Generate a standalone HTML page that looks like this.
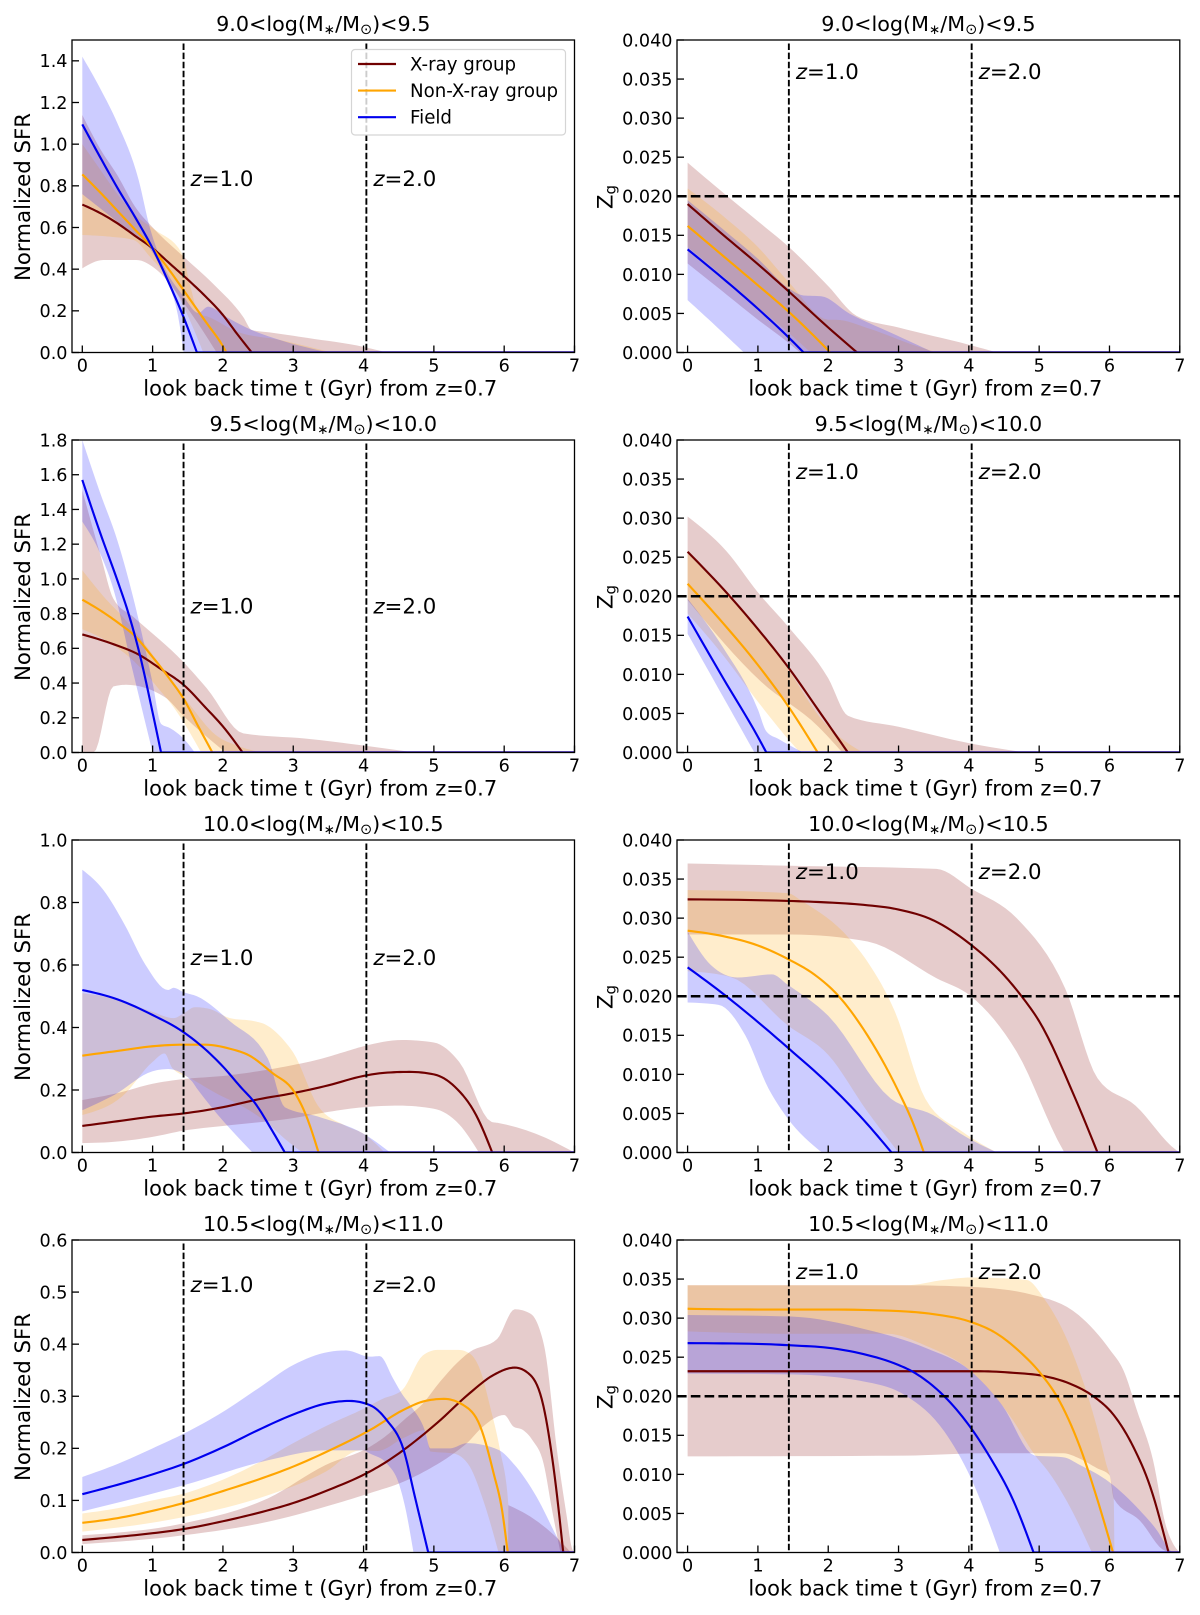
<!DOCTYPE html>
<html lang="en">
<head>
<meta charset="utf-8">
<title>Normalized SFR and gas metallicity histories</title>
<style>
html,body{margin:0;padding:0;background:#fff;}
#chart{display:block;width:1200px;height:1615px;font-family:"DejaVu Sans","Liberation Sans",sans-serif;filter:blur(0.35px);}
text{fill:#000;}
</style>
</head>
<body>
<svg id="chart" xmlns="http://www.w3.org/2000/svg" width="1200" height="1615" viewBox="0 0 1200 1615"></svg>
<script>
/* ---------- shared axis values ---------- */
const xTickValues = [0,1,2,3,4,5,6,7];
const redshiftTimes = [1.44,4.04];
const redshiftLabels = ['=1.0','=2.0'];
const sfrTicksA = ['0.0','0.2','0.4','0.6','0.8','1.0','1.2','1.4'];
const sfrTicksC = ['0.0','0.2','0.4','0.6','0.8','1.0','1.2','1.4','1.6','1.8'];
const sfrTicksE = ['0.0','0.2','0.4','0.6','0.8','1.0'];
const sfrTicksG = ['0.0','0.1','0.2','0.3','0.4','0.5','0.6'];
const zgTicks = ['0.000','0.005','0.010','0.015','0.020','0.025','0.030','0.035','0.040'];
const solarZ = 0.02;

/* ---------- Panel A: SFR, 9.0-9.5 ---------- */
const aXrayLine = [[0,.71],[.25,.67],[.5,.62],[.75,.56],[1,.5],[1.25,.425],[1.5,.35],[1.75,.27],[2,.18],[2.2,.09],[2.41,0],[7,0]];
const aXrayHigh = [[0,1.14],[.25,.98],[.5,.85],[.75,.7],[1.03,.59],[1.44,.46],[1.86,.33],[2.29,.17],[2.41,.108],[2.7,.095],[3.2,.07],[4,.027],[4.33,0],[7,0]];
const aXrayLow = [[0,.404],[.3,.444],[.77,.444],[1.06,.396],[1.48,.22],[1.91,0],[7,0]];
const aOrangeLine = [[0,.855],[.25,.77],[.5,.68],[.75,.59],[1,.5],[1.25,.39],[1.5,.27],[1.75,.15],[2,.03],[2.05,0],[7,0]];
const aOrangeHigh = [[0,1],[.25,.88],[.5,.76],[.75,.66],[1.03,.59],[1.41,.48],[1.55,.3],[1.65,.188],[1.8,.17],[2.2,.1],[2.81,.06],[3.55,0],[7,0]];
const aOrangeLow = [[0,.564],[.39,.556],[.73,.54],[.96,.46],[1.2,.364],[1.44,.22],[1.72,0],[7,0]];
const aBlueLine = [[0,1.095],[.25,.94],[.5,.79],[.75,.65],[1,.5],[1.25,.32],[1.44,.17],[1.63,0],[7,0]];
const aBlueHigh = [[0,1.42],[.25,1.27],[.5,1.1],[.8,.83],[.96,.6],[1.1,.46],[1.44,.27],[1.65,.19],[1.79,.22],[2.05,.17],[2.41,.108],[2.81,.06],[3.5,0],[7,0]];
const aBlueLow = [[0,.76],[.3,.68],[.6,.6],[.96,.5],[1.15,.38],[1.39,.12],[1.44,0],[7,0]];

/* ---------- Panel B: Zg, 9.0-9.5 ---------- */
const bXrayLine = [[0,.019],[.5,.0151],[1,.0113],[1.44,.0078],[2,.0032],[2.41,0],[7,0]];
const bXrayHigh = [[0,.0243],[.5,.0205],[1,.0168],[1.44,.0135],[2,.0085],[2.4,.0047],[3,.0032],[4,.001],[4.4,0],[7,0]];
const bXrayLow = [[0,.0114],[.5,.0078],[1,.0042],[1.44,.0012],[1.6,0],[7,0]];
const bOrangeLine = [[0,.0162],[.5,.0124],[1,.0086],[1.44,.0052],[2.03,0],[7,0]];
const bOrangeHigh = [[0,.021],[.5,.0175],[1,.0135],[1.44,.009],[2,.0042],[2.1,.0042],[2.6,.003],[3.2,.001],[3.55,0],[7,0]];
const bOrangeLow = [[0,.0135],[.5,.0098],[1,.0058],[1.44,.0025],[1.75,0],[7,0]];
const bBlueLine = [[0,.0132],[.5,.0095],[1,.0056],[1.44,.0019],[1.65,0],[7,0]];
const bBlueHigh = [[0,.0195],[.5,.0158],[1,.012],[1.44,.0082],[1.65,.0073],[1.9,.0072],[2.3,.005],[2.9,.0025],[3.5,0],[7,0]];
const bBlueLow = [[0,.0067],[.4,.0034],[.8,0],[7,0]];

/* ---------- Panel C: SFR, 9.5-10.0 ---------- */
const cXrayLine = [[0,.68],[.4,.63],[.82,.56],[1.12,.48],[1.44,.39],[1.75,.26],[2,.15],[2.28,0],[7,0]];
const cXrayHigh = [[0,1.51],[.27,1.12],[.44,.887],[.73,.78],[1.44,.52],[1.77,.37],[2.29,.11],[3.18,.08],[4,.04],[4.73,0],[7,0]];
const cXrayLow = [[0,0],[.16,0],[.44,.38],[.62,.39],[1.17,.32],[1.44,.21],[2.04,0],[7,0]];
const cOrangeLine = [[0,.88],[.25,.82],[.5,.75],[.75,.67],[1,.55],[1.25,.42],[1.44,.31],[1.65,.15],[1.85,0],[7,0]];
const cOrangeHigh = [[0,1.05],[.3,.9],[.6,.77],[.9,.62],[1.2,.45],[1.5,.29],[1.9,.1],[2.2,.04],[2.55,0],[7,0]];
const cOrangeLow = [[0,.71],[.4,.63],[.8,.5],[1.1,.36],[1.3,.26],[1.69,0],[7,0]];
const cBlueLine = [[0,1.57],[.25,1.27],[.5,.99],[.65,.81],[.82,.56],[1,.23],[1.12,0],[7,0]];
const cBlueHigh = [[0,1.8],[.25,1.5],[.5,1.22],[.75,.85],[1,.4],[1.12,.165],[1.25,.14],[1.44,.08],[1.6,0],[7,0]];
const cBlueLow = [[0,1.33],[.25,1.15],[.45,.93],[.7,.5],[1,0],[7,0]];

/* ---------- Panel D: Zg, 9.5-10.0 ---------- */
const dXrayLine = [[0,.0257],[.6,.02],[1,.0158],[1.44,.0108],[1.9,.0049],[2.28,0],[7,0]];
const dXrayHigh = [[0,.0302],[.55,.0258],[1,.0205],[1.44,.016],[2,.0095],[2.28,.0047],[3,.0033],[4,.0012],[4.8,0],[7,0]];
const dXrayLow = [[0,.0195],[1.04,.0091],[1.86,.0033],[2.2,0],[7,0]];
const dOrangeLine = [[0,.0216],[.5,.0166],[1,.0112],[1.44,.0058],[1.85,0],[7,0]];
const dOrangeHigh = [[0,.0255],[.6,.0198],[1,.0157],[1.44,.0105],[1.9,.0043],[2.4,.0005],[2.5,0],[7,0]];
const dOrangeLow = [[0,.0178],[.5,.0125],[1,.0065],[1.45,.0015],[1.6,0],[7,0]];
const dBlueLine = [[0,.0174],[.5,.0096],[1,.002],[1.12,0],[7,0]];
const dBlueHigh = [[0,.0197],[.5,.0135],[1,.0055],[1.12,.0027],[1.3,.0017],[1.64,0],[7,0]];
const dBlueLow = [[0,.0152],[.5,.0072],[.95,0],[7,0]];

/* ---------- Panel E: SFR, 10.0-10.5 ---------- */
const eXrayLine = [[0,.085],[.5,.1],[1,.115],[1.44,.125],[2,.145],[2.5,.17],[3,.19],[3.5,.215],[4,.245],[4.3,.255],[4.65,.258],[5,.25],[5.3,.21],[5.6,.12],[5.83,0],[7,0]];
const eXrayHigh = [[0,.168],[.5,.19],[1,.22],[1.44,.235],[2,.245],[2.5,.26],[3,.28],[3.4,.3],[3.7,.32],[4,.34],[4.55,.36],[5,.352],[5.36,.29],[5.82,.098],[5.9,.095],[6.45,.06],[7,0]];
const eXrayLow = [[0,.03],[.5,.035],[1,.05],[1.44,.07],[2,.085],[3,.11],[3.5,.13],[4,.145],[4.5,.15],[5,.14],[5.36,.09],[5.64,0],[7,0]];
const eOrangeLine = [[0,.31],[.5,.325],[1,.34],[1.44,.345],[1.75,.345],[2.1,.332],[2.37,.311],[2.7,.255],[3.02,.192],[3.18,.12],[3.36,0],[7,0]];
const eOrangeHigh = [[0,.51],[.5,.49],[1,.45],[1.3,.43],[1.44,.445],[1.6,.465],[1.8,.46],[2.1,.43],[2.45,.42],[2.6,.41],[2.9,.35],[3,.32],[3.35,.15],[3.73,.087],[4,.06],[4.3,0],[7,0]];
const eOrangeLow = [[0,.12],[.57,.18],[1,.29],[1.17,.317],[1.28,.27],[1.55,.236],[1.9,.19],[2.3,.145],[2.6,.1],[2.9,.04],[3.13,0],[7,0]];
const eBlueLine = [[0,.52],[.5,.49],[1,.44],[1.44,.385],[1.75,.33],[2,.275],[2.25,.21],[2.45,.16],[2.7,.07],[2.88,0],[7,0]];
const eBlueHigh = [[0,.905],[.3,.84],[.6,.73],[.9,.6],[1.22,.52],[1.3,.527],[1.44,.513],[1.63,.5],[2.1,.42],[2.64,.3],[2.88,.145],[3.35,.115],[4,.06],[4.38,0],[7,0]];
const eBlueLow = [[0,.135],[.46,.185],[1,.26],[1.22,.267],[1.55,.23],[1.63,.205],[2.42,0],[7,0]];

/* ---------- Panel F: Zg, 10.0-10.5 ---------- */
const fXrayLine = [[0,.0324],[1.44,.0322],[2,.032],[2.5,.0317],[3,.0311],[3.5,.0297],[4,.0268],[4.5,.0227],[4.75,.02],[5,.0168],[5.5,.0072],[5.83,0],[7,0]];
const fXrayHigh = [[0,.037],[1.47,.0367],[3.54,.0363],[4.03,.0338],[4.68,.03],[5.37,.021],[5.83,.0095],[6.37,.006],[6.95,.0003],[7,0]];
const fXrayLow = [[0,.0279],[1.47,.0279],[2.56,.027],[3.54,.0223],[4.03,.02],[4.68,.0129],[5.34,.0003],[5.36,0],[7,0]];
const fOrangeLine = [[0,.0284],[.5,.0277],[1,.0265],[1.44,.0247],[1.8,.0228],[2.15,.02],[2.5,.0158],[3,.0078],[3.2,.0039],[3.36,0],[7,0]];
const fOrangeHigh = [[0,.0336],[1.42,.0332],[1.64,.0321],[2.3,.0274],[2.56,.0244],[2.95,.018],[3.38,.0069],[3.92,.0026],[4.4,0],[7,0]];
const fOrangeLow = [[0,.0232],[.6,.0225],[1.42,.0163],[2,.0125],[2.56,.0052],[3,0],[7,0]];
const fBlueLine = [[0,.0237],[.55,.02],[1,.0167],[1.44,.0133],[2,.0088],[2.5,.0042],[2.9,0],[7,0]];
const fBlueHigh = [[0,.0283],[.33,.024],[.71,.0224],[1.2,.0228],[1.42,.0215],[2,.0175],[2.89,.0069],[3.49,.0048],[3.92,.0022],[4.4,0],[7,0]];
const fBlueLow = [[0,.0192],[.44,.0189],[.82,.015],[1.15,.0082],[1.42,.0044],[1.91,0],[7,0]];

/* ---------- Panel G: SFR, 10.5-11.0 ---------- */
const gXrayLine = [[0,.024],[.5,.03],[1,.037],[1.44,.045],[2,.06],[2.5,.076],[3,.095],[3.5,.12],[4.04,.152],[4.3,.172],[4.57,.197],[5.04,.248],[5.51,.306],[5.85,.341],[6.15,.355],[6.37,.341],[6.56,.28],[6.7,.165],[6.84,0],[7,0]];
const gXrayHigh = [[0,.033],[1.44,.056],[2.64,.104],[3.46,.168],[4.09,.203],[4.33,.225],[4.57,.254],[4.87,.29],[5.04,.32],[5.51,.385],[5.9,.41],[6.15,.467],[6.37,.459],[6.5,.43],[6.58,.389],[6.75,.197],[6.89,.069],[6.96,.01],[7,0]];
const gXrayLow = [[0,.016],[1.44,.033],[2.64,.059],[3.46,.088],[3.95,.108],[4.09,.114],[4.57,.136],[4.9,.158],[5.28,.19],[5.47,.21],[5.7,.242],[6,.264],[6.13,.242],[6.27,.235],[6.4,.216],[6.56,.171],[6.68,.082],[6.8,0],[7,0]];
const gXrayTail = [[6.06,.091],[6.37,.069],[6.68,.037],[6.95,0]];
const gXrayTailBase = [[6.06,0],[6.95,0]];
const gOrangeLine = [[0,.057],[.5,.066],[1,.08],[1.44,.095],[2,.118],[2.5,.14],[3,.165],[3.5,.195],[4.09,.235],[4.57,.274],[4.85,.29],[5.14,.295],[5.42,.283],[5.66,.242],[5.85,.152],[5.97,.081],[6.05,0],[7,0]];
const gOrangeHigh = [[0,.075],[.5,.085],[1,.1],[1.44,.113],[2,.14],[2.5,.172],[3,.21],[3.5,.245],[4,.276],[4.27,.295],[4.55,.312],[4.84,.378],[5.05,.389],[5.35,.389],[5.51,.382],[5.66,.35],[5.8,.28],[5.94,.197],[6.06,.091],[6.07,0],[7,0]];
const gOrangeLow = [[0,.04],[1.44,.068],[2.64,.11],[3.46,.155],[3.95,.196],[4.2,.195],[4.57,.22],[4.87,.235],[4.95,.194],[5.28,.19],[5.51,.165],[5.7,.101],[5.92,0],[7,0]];
const gBlueLine = [[0,.112],[.5,.13],[1,.15],[1.44,.17],[2,.202],[2.5,.235],[3,.265],[3.5,.287],[3.8,.291],[4.09,.283],[4.33,.254],[4.57,.197],[4.73,.107],[4.92,0],[7,0]];
const gBlueHigh = [[0,.145],[.5,.17],[1,.2],[1.44,.228],[2,.27],[2.5,.315],[3,.36],[3.5,.385],[3.75,.388],[4.09,.376],[4.23,.377],[4.42,.334],[4.54,.306],[4.68,.28],[4.87,.235],[4.95,.2],[5.23,.2],[5.47,.21],[5.92,.197],[6.13,.171],[6.46,.107],[6.75,.03],[6.87,0],[7,0]];
const gBlueLow = [[0,.079],[1.44,.129],[2.64,.177],[3.46,.196],[4,.196],[4.09,.19],[4.33,.171],[4.5,.133],[4.59,.088],[4.71,0],[7,0]];

/* ---------- Panel H: Zg, 10.5-11.0 ---------- */
const hXrayLine = [[0,.0232],[1,.0232],[2,.0232],[3,.0232],[4.16,.0232],[4.63,.023],[5.06,.0226],[5.44,.0216],[5.77,.02],[6.06,.0176],[6.34,.0135],[6.58,.0084],[6.84,0],[7,0]];
const hXrayHigh = [[0,.0342],[3.1,.0342],[4.03,.034],[4.9,.033],[5.56,.0304],[6.01,.0259],[6.2,.0233],[6.39,.0182],[6.62,.0118],[6.8,.0035],[6.9,.0012],[7,0]];
const hXrayLow = [[0,.0123],[3.1,.0124],[4.2,.0127],[4.92,.0127],[5.34,.0127],[5.58,.012],[5.82,.0108],[6,.0099],[6.06,.0069],[6.43,.0041],[6.8,.0002],[7,0]];
const hOrangeLine = [[0,.0312],[1,.0311],[2,.0311],[3,.0309],[3.5,.0305],[4,.0296],[4.4,.028],[4.7,.0259],[5.04,.0227],[5.25,.02],[5.58,.0135],[5.82,.007],[6.05,0],[7,0]];
const hOrangeHigh = [[0,.0342],[3.1,.0342],[3.65,.0349],[4.03,.0352],[4.82,.0349],[5.07,.0325],[5.46,.0259],[5.94,.0118],[6.06,.0069],[6.07,0],[7,0]];
const hOrangeLow = [[0,.0283],[1.47,.028],[2.84,.028],[3.38,.0265],[4.03,.0232],[4.63,.0169],[4.92,.0127],[5.15,.0101],[5.44,.0058],[5.75,0],[7,0]];
const hBlueLine = [[0,.0268],[1,.0267],[1.5,.0265],[2,.0262],[2.5,.0254],[3,.024],[3.19,.0232],[3.65,.02],[4,.0163],[4.3,.0122],[4.63,.0067],[4.92,0],[7,0]];
const hBlueHigh = [[0,.0304],[1.47,.0302],[2.56,.0285],[3.38,.0262],[4.03,.0232],[4.47,.0189],[4.94,.0124],[5.34,.0122],[5.58,.0112],[6,.009],[6.43,.0054],[6.67,.0029],[6.86,.0003],[6.9,0],[7,0]];
const hBlueLow = [[0,.0229],[1.47,.0228],[2.56,.0218],[3.1,.0201],[3.65,.0155],[4.03,.0095],[4.44,0],[7,0]];

/* ---------- panel definitions ---------- */
const panels = [
 {id:'a',kind:'sfr',col:0,row:0,yMax:1.5,step:.2,ticks:sfrTicksA,lo:'9.0',hi:'9.5',zLabelAt:.8,xray:[aXrayLine,aXrayHigh,aXrayLow],orange:[aOrangeLine,aOrangeHigh,aOrangeLow],blue:[aBlueLine,aBlueHigh,aBlueLow]},
 {id:'b',kind:'zg',col:1,row:0,yMax:.04,step:.005,ticks:zgTicks,lo:'9.0',hi:'9.5',zLabelAt:.035,xray:[bXrayLine,bXrayHigh,bXrayLow],orange:[bOrangeLine,bOrangeHigh,bOrangeLow],blue:[bBlueLine,bBlueHigh,bBlueLow]},
 {id:'c',kind:'sfr',col:0,row:1,yMax:1.8,step:.2,ticks:sfrTicksC,lo:'9.5',hi:'10.0',zLabelAt:.8,xray:[cXrayLine,cXrayHigh,cXrayLow],orange:[cOrangeLine,cOrangeHigh,cOrangeLow],blue:[cBlueLine,cBlueHigh,cBlueLow]},
 {id:'d',kind:'zg',col:1,row:1,yMax:.04,step:.005,ticks:zgTicks,lo:'9.5',hi:'10.0',zLabelAt:.035,xray:[dXrayLine,dXrayHigh,dXrayLow],orange:[dOrangeLine,dOrangeHigh,dOrangeLow],blue:[dBlueLine,dBlueHigh,dBlueLow]},
 {id:'e',kind:'sfr',col:0,row:2,yMax:1,step:.2,ticks:sfrTicksE,lo:'10.0',hi:'10.5',zLabelAt:.6,xray:[eXrayLine,eXrayHigh,eXrayLow],orange:[eOrangeLine,eOrangeHigh,eOrangeLow],blue:[eBlueLine,eBlueHigh,eBlueLow]},
 {id:'f',kind:'zg',col:1,row:2,yMax:.04,step:.005,ticks:zgTicks,lo:'10.0',hi:'10.5',zLabelAt:.035,xray:[fXrayLine,fXrayHigh,fXrayLow],orange:[fOrangeLine,fOrangeHigh,fOrangeLow],blue:[fBlueLine,fBlueHigh,fBlueLow]},
 {id:'g',kind:'sfr',col:0,row:3,yMax:.6,step:.1,ticks:sfrTicksG,lo:'10.5',hi:'11.0',zLabelAt:.5,xray:[gXrayLine,gXrayHigh,gXrayLow],orange:[gOrangeLine,gOrangeHigh,gOrangeLow],blue:[gBlueLine,gBlueHigh,gBlueLow],tail:[gXrayTail,gXrayTailBase]},
 {id:'h',kind:'zg',col:1,row:3,yMax:.04,step:.005,ticks:zgTicks,lo:'10.5',hi:'11.0',zLabelAt:.035,xray:[hXrayLine,hXrayHigh,hXrayLow],orange:[hOrangeLine,hOrangeHigh,hOrangeLow],blue:[hBlueLine,hBlueHigh,hBlueLow]}
];

const NS = 'http://www.w3.org/2000/svg';
const svg = document.getElementById('chart');
const colours = {xray:'#700000',orange:'#ffa500',blue:'#0000ee'};
const fills = {xray:'rgba(128,0,0,.2)',orange:'rgba(255,165,0,.2)',blue:'rgba(0,0,255,.2)'};
const seriesTitle = {xray:'xray',orange:'non-xray',blue:'field'};

function make(tag, attrs, parent){
  const el = document.createElementNS(NS, tag);
  for (const k in attrs) el.setAttribute(k, attrs[k]);
  parent.appendChild(el);
  return el;
}
/* Monotone cubic through sorted pixel points; the curve stops at the first point
   where the series reaches zero for good, so the drop-off keeps its sharp corner. */
function denseCurve(pts, baseY){
  let end = pts.length - 1;
  while (end > 0 && pts[end][1] === baseY && pts[end-1][1] === baseY) end--;
  const cur = pts.slice(0, end + 1);
  const out = [];
  const n = cur.length;
  if (n < 2) return pts.slice();
  const h = [], s = [], m = [];
  for (let i = 0; i < n - 1; i++) {
    h[i] = cur[i+1][0] - cur[i][0];
    s[i] = (cur[i+1][1] - cur[i][1]) / h[i];
  }
  for (let i = 1; i < n - 1; i++) {
    if (s[i-1] * s[i] <= 0) { m[i] = 0; continue; }
    const p = (s[i-1] * h[i] + s[i] * h[i-1]) / (h[i-1] + h[i]);
    m[i] = (Math.sign(s[i-1]) + Math.sign(s[i])) * Math.min(Math.abs(s[i-1]), Math.abs(s[i]), 0.5 * Math.abs(p));
  }
  m[0] = n > 2 ? (3 * s[0] - m[1]) / 2 : s[0];
  m[n-1] = n > 2 ? (3 * s[n-2] - m[n-2]) / 2 : s[0];
  for (let i = 0; i < n - 1; i++) {
    for (let k = 0; k < 8; k++) {
      const u = k / 8, u2 = u * u, u3 = u2 * u;
      out.push([
        cur[i][0] + u * h[i],
        (2*u3 - 3*u2 + 1) * cur[i][1] + (u3 - 2*u2 + u) * h[i] * m[i] + (3*u2 - 2*u3) * cur[i+1][1] + (u3 - u2) * h[i] * m[i+1]
      ]);
    }
  }
  out.push(cur[n-1]);
  for (let i = end + 1; i < pts.length; i++) out.push(pts[i]);
  return out;
}
function pointString(list){
  return list.map(function(q){ return q[0].toFixed(2) + ',' + q[1].toFixed(2); }).join(' ');
}

panels.forEach(function(p){
  const left = p.col === 0 ? 72 : 677;
  const right = p.col === 0 ? 574.5 : 1179.8;
  const zeroX = p.col === 0 ? 82.3 : 687.6;
  const top = 40 + p.row * 400;
  const bottom = top + 312.5;
  const xScale = function(t){ return zeroX + t * (right - zeroX) / 7; };
  const yScale = function(v){ return bottom - v / p.yMax * (bottom - top); };
  const mapPts = function(arr){ return arr.map(function(d){ return [xScale(d[0]), yScale(d[1])]; }); };

  const g = make('g', {}, svg);
  
  

  const clip = make('clipPath', {id:'clip-' + p.id}, g);
  make('rect', {x:left, y:top, width:right-left, height:bottom-top}, clip);
  const plot = make('g', {'clip-path':'url(#clip-' + p.id + ')'}, g);

  ['xray','orange','blue'].forEach(function(s){
    const up = denseCurve(mapPts(p[s][1]), bottom), lo = denseCurve(mapPts(p[s][2]), bottom).reverse();
    const band = make('polygon', {points: pointString(up.concat(lo)), fill: fills[s]}, plot);
    
    
    if (s === 'xray' && p.tail) {
      const tu = denseCurve(mapPts(p.tail[0]), bottom), tl = mapPts(p.tail[1]).reverse();
      const tail = make('polygon', {points: pointString(tu.concat(tl)), fill: fills[s]}, plot);
      
      
    }
  });
  ['xray','orange','blue'].forEach(function(s){
    const line = make('polyline', {points: pointString(denseCurve(mapPts(p[s][0]), bottom)), fill:'none', stroke:colours[s], 'stroke-width':2.15, 'stroke-linejoin':'round'}, plot);
    
    
  });

  redshiftTimes.forEach(function(t, i){
    const v = make('line', {x1:xScale(t), x2:xScale(t), y1:top+3.5, y2:bottom, stroke:'#000', 'stroke-width':1.9, 'stroke-dasharray':'6.5 2.6'}, g);
    
    
    const lab = make('text', {x:xScale(t)+7, y:yScale(p.zLabelAt), 'font-size':21.3}, g);
    
    
    const zi = make('tspan', {'font-style':'italic'}, lab);
    zi.textContent = 'z';
    const rest = make('tspan', {}, lab);
    rest.textContent = redshiftLabels[i];
  });
  if (p.kind === 'zg') {
    const h = make('line', {x1:left, x2:right, y1:yScale(solarZ), y2:yScale(solarZ), stroke:'#000', 'stroke-width':2.6, 'stroke-dasharray':'9.6 4.2'}, g);
    
    
  }

  xTickValues.forEach(function(t){
    const tk = make('line', {x1:xScale(t), x2:xScale(t), y1:bottom, y2:bottom-7, stroke:'#000', 'stroke-width':1.3}, g);
    
    
    const tl = make('text', {x:xScale(t), y:bottom+19, 'font-size':17.6, 'text-anchor':'middle'}, g);
    
    
    tl.textContent = String(t);
  });
  p.ticks.forEach(function(label, i){
    const v = i * p.step;
    const tk = make('line', {x1:left, x2:left+7, y1:yScale(v), y2:yScale(v), stroke:'#000', 'stroke-width':1.3}, g);
    
    
    const tl = make('text', {x:left-4.5, y:yScale(v)+6.4, 'font-size':17.6, 'text-anchor':'end'}, g);
    
    
    tl.textContent = label;
  });

  const frame = make('rect', {x:left, y:top, width:right-left, height:bottom-top, fill:'none', stroke:'#000', 'stroke-width':1.3}, g);
  
  

  const title = make('text', {x:(left+right)/2, y:top-9, 'font-size':20.7, 'text-anchor':'middle'}, g);
  
  
  const t1 = make('tspan', {}, title);
  t1.textContent = p.lo + '<log(M';
  const t2 = make('tspan', {'font-size':13.5, dy:3}, title);
  t2.textContent = '\u2217';
  const t3 = make('tspan', {dy:-3}, title);
  t3.textContent = '/M';
  const t4 = make('tspan', {'font-size':14.5, dy:3}, title);
  t4.textContent = '\u2299';
  const t5 = make('tspan', {dy:-3}, title);
  t5.textContent = ')<' + p.hi;

  const xl = make('text', {x:(left+right)/2-3, y:bottom+43, 'font-size':21, 'text-anchor':'middle'}, g);
  
  
  xl.textContent = 'look back time t (Gyr) from z=0.7';

  if (p.kind === 'sfr') {
    const yl = make('text', {'font-size':21.3, 'text-anchor':'middle', transform:'translate(30,' + (top+157) + ') rotate(-90)'}, g);
    
    
    yl.textContent = 'Normalized SFR';
  } else {
    const yl = make('text', {'font-size':21.3, 'text-anchor':'middle', transform:'translate(612.5,' + (top+157) + ') rotate(-90)'}, g);
    
    
    const zt = make('tspan', {}, yl);
    zt.textContent = 'Z';
    const gt = make('tspan', {'font-size':15, dy:3}, yl);
    gt.textContent = 'g';
  }
});

/* ---------- legend in the first panel ---------- */
const legendLabels = ['X-ray group','Non-X-ray group','Field'];
const legendKeys = ['xray','orange','blue'];
const legend = make('g', {}, svg);


make('rect', {x:351.5, y:49.5, width:214, height:85.5, rx:3.5, fill:'rgba(255,255,255,.8)', stroke:'#d5d5d5', 'stroke-width':1.2}, legend);
legendLabels.forEach(function(label, i){
  const y = 64 + i * 26.6;
  const sw = make('line', {x1:358, x2:396, y1:y, y2:y, stroke:colours[legendKeys[i]], 'stroke-width':2.15}, legend);
  
  
  const tx = make('text', {x:410, y:y+6.3, 'font-size':18.2}, legend);
  
  
  tx.textContent = label;
});
</script>
</body>
</html>
